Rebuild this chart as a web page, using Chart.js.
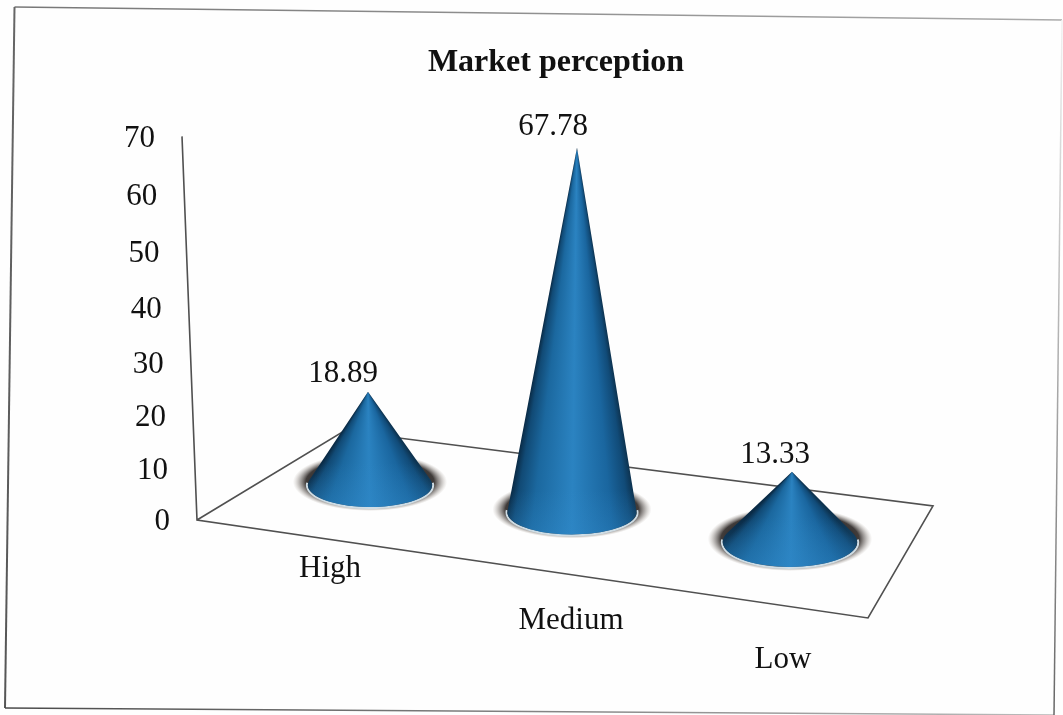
<!DOCTYPE html>
<html>
<head>
<meta charset="utf-8">
<title>Market perception</title>
<style>
  html, body { margin: 0; padding: 0; background: #fefefe; }
  canvas { display: block; }
</style>
<script src="https://cdn.jsdelivr.net/npm/chart.js@4"></script>
</head>
<body>
<canvas id="cone-chart" width="1063" height="715"></canvas>
<script>
var chartTitle = "Market perception";
var categories = ["High", "Medium", "Low"];
var perception = [18.89, 67.78, 13.33];
var tickStep = 10;
var axisMax = 70;

var SERIF = "'Liberation Serif', 'Times New Roman', serif";
var TEXT_FONT = "31px " + SERIF;
var TEXT_COLOR = "#111111";
var LINE_COLOR = "#505050";

// floor plane corners
var floorLeft = [197, 520];
var floorFront = [868, 618];
var floorRight = [933, 506];
var floorBack = [344, 431];
var axisTopX = 182;

// per cone tweaks, the x axis squeezes towards the back
var rimShift = [0, -8, 0];
var apexLean = [-2, 5, 2];
var rimDepth = [22, 22, 25];
var valueLabelDx = [-25, -24, -17];
var valueLabelDy = [-18, -21, -17];
var catLabelDx = [-40, -9, -7];
var catLabelDy = [49, 101, 140];

// y axis gets stretched a bit towards the top of the wall
class PerspectiveScale extends Chart.LinearScale {
     getPixelForValue(value) {
          var warp = function (v) { return v / (1 - 0.00102 * v); };
          return this.getPixelForDecimal(warp(value) / warp(this.max));
     }
}
PerspectiveScale.id = "perspective";
PerspectiveScale.defaults = Chart.LinearScale.defaults;
Chart.register(PerspectiveScale);

function strokeEdge(ctx, from, to, startColor, endColor, width) {
     var g = ctx.createLinearGradient(from[0], from[1], to[0], to[1]);
     g.addColorStop(0, startColor);
     g.addColorStop(1, endColor);
     ctx.strokeStyle = g;
     ctx.lineWidth = width;
     ctx.beginPath();
     ctx.moveTo(from[0], from[1]);
     ctx.lineTo(to[0], to[1]);
     ctx.stroke();
}

function drawFrame(ctx) {
     var tl = [14.5, 7], tr = [1062, 20], br = [1054, 715], bl = [5, 708];
     strokeEdge(ctx, tl, tr, "#777777", "#aaaaaa", 1.5);
     strokeEdge(ctx, tl, bl, "#666666", "#555555", 2);
     strokeEdge(ctx, bl, br, "#4a4a4a", "#bbbbbb", 1.5);
     strokeEdge(ctx, tr, br, "#f2f2f2", "#666666", 1.5);
}

function drawFloor(chart) {
     var ctx = chart.ctx;
     var y = chart.scales.y;
     var top = y.getPixelForValue(axisMax);
     ctx.save();
     ctx.strokeStyle = LINE_COLOR;
     ctx.lineWidth = 1.6;
     ctx.lineJoin = "miter";
     ctx.beginPath();
     ctx.moveTo(axisTopX, top);
     ctx.lineTo(floorLeft[0], floorLeft[1]);
     ctx.lineTo(floorFront[0], floorFront[1]);
     ctx.lineTo(floorRight[0], floorRight[1]);
     ctx.lineTo(floorBack[0], floorBack[1]);
     ctx.lineTo(floorLeft[0], floorLeft[1]);
     ctx.stroke();
     ctx.restore();
}

// wall x for a given pixel height on the slanted value axis
function axisXAt(chart, py) {
     var y = chart.scales.y;
     var top = y.getPixelForValue(axisMax);
     var zero = y.getPixelForValue(0);
     return floorLeft[0] + (axisTopX - floorLeft[0]) * (zero - py) / (zero - top);
}

function drawHalo(ctx, cx, cy, rx, ry) {
     var outer = rx + 15;
     var g = ctx.createRadialGradient(0, 0, rx * 0.8, 0, 0, outer);
     g.addColorStop(0, "rgba(40,36,36,1)");
     g.addColorStop((rx + 2 - rx * 0.8) / (outer - rx * 0.8), "rgba(55,50,48,0.95)");
     g.addColorStop((rx + 8 - rx * 0.8) / (outer - rx * 0.8), "rgba(110,104,100,0.55)");
     g.addColorStop(1, "rgba(170,160,150,0)");
     ctx.save();
     ctx.translate(cx, cy - 3);
     ctx.scale(1, (ry + 7) / outer);
     ctx.fillStyle = g;
     ctx.beginPath();
     ctx.arc(0, 0, outer, 0, Math.PI * 2);
     ctx.fill();
     ctx.restore();
}

function drawCone(ctx, apexX, apexY, cx, cy, rx, ry) {
     drawHalo(ctx, cx, cy, rx, ry);

     // rim sits just outside the cone body
     ctx.save();
     ctx.strokeStyle = "#cfdde5";
     ctx.lineWidth = 2;
     ctx.beginPath();
     ctx.ellipse(cx, cy, rx + 1, ry + 1, 0, -0.1, Math.PI + 0.1);
     ctx.stroke();
     ctx.restore();

     var dy = cy - apexY;
     var rightAngle = Math.atan2(dy, cx + rx - apexX);
     var leftAngle = Math.atan2(dy, cx - rx - apexX);
     var twoPi = Math.PI * 2;
     // angles fan out from the tip, so the shading runs along the cone
     var shade = ctx.createConicGradient(0, apexX, apexY);
     var stop = function (t, color) {
          var a = rightAngle + (leftAngle - rightAngle) * t;
          shade.addColorStop(a / twoPi, color);
     };
     shade.addColorStop(0, "#0b2d4a");
     stop(0, "#0d3350");
     stop(0.06, "#114b78");
     stop(0.2, "#1a669f");
     stop(0.5, "#2b83c1");
     stop(0.8, "#1b689f");
     stop(0.94, "#114a75");
     stop(1, "#0a2b46");
     shade.addColorStop(1, "#0b2d4a");

     // outline leaves the ellipse at its tangent points
     var tangent = Math.asin(Math.min(ry / dy, 1));

     ctx.save();
     ctx.fillStyle = shade;
     ctx.beginPath();
     ctx.moveTo(apexX, apexY);
     ctx.ellipse(cx, cy, rx, ry, 0, -tangent, Math.PI + tangent);
     ctx.closePath();
     ctx.fill();

     // bottom of the body goes a touch lighter
     var glow = ctx.createLinearGradient(0, cy - ry, 0, cy + ry);
     glow.addColorStop(0, "rgba(50,140,205,0)");
     glow.addColorStop(1, "rgba(50,140,205,0.3)");
     ctx.fillStyle = glow;
     ctx.fill();
     ctx.restore();
}

var coneScene = {
     id: "coneScene",
     beforeDraw: function (chart) {
          var ctx = chart.ctx;
          ctx.save();
          ctx.fillStyle = "#fefefe";
          ctx.fillRect(0, 0, chart.width, chart.height);
          drawFrame(ctx);
          ctx.restore();
     },
     afterLayout: function (chart) {
          // title sits a little right of the page centre
          chart.titleBlock.left = 2 * 556 - chart.titleBlock.right;
     },
     beforeDatasetsDraw: function (chart) {
          drawFloor(chart);
     },
     afterDatasetsDraw: function (chart) {
          var ctx = chart.ctx;
          var yScale = chart.scales.y;
          var zero = yScale.getPixelForValue(0);
          var bars = chart.getDatasetMeta(0).data;
          var slope = 0.1357;

          ctx.save();
          ctx.font = TEXT_FONT;
          ctx.fillStyle = TEXT_COLOR;

          // value axis labels follow the slanted wall edge
          ctx.textAlign = "right";
          ctx.textBaseline = "middle";
          yScale.ticks.forEach(function (tick) {
               var py = yScale.getPixelForValue(tick.value);
               ctx.fillText(tick.value, axisXAt(chart, py) - 27, py + 2);
          });
          ctx.restore();

          bars.forEach(function (bar, i) {
               var cx = bar.x + rimShift[i];
               var cy = 485 + slope * (cx - 370);
               // cones nearer the right corner come out a little taller
               var depth = 0.985 + (cx - 572) * 0.000164;
               var height = (bar.base - bar.y) * depth;
               var rx = bar.width / 2 + (cx - 572) * 0.012;
               var apexX = cx + apexLean[i];
               var apexY = cy - height;
               drawCone(ctx, apexX, apexY, cx, cy, rx, rimDepth[i]);

               ctx.save();
               ctx.font = TEXT_FONT;
               ctx.fillStyle = TEXT_COLOR;
               ctx.textAlign = "center";
               ctx.textBaseline = "middle";
               ctx.fillText(perception[i].toFixed(2), apexX + valueLabelDx[i], apexY + valueLabelDy[i]);
               ctx.fillText(categories[i], bar.x + catLabelDx[i], zero + catLabelDy[i]);
               ctx.restore();
          });
     }
};

var chart = new Chart(document.getElementById("cone-chart"), {
     type: "bar",
     data: {
          labels: categories,
          datasets: [{
               data: perception,
               label: chartTitle,
               backgroundColor: "rgba(0,0,0,0)",
               borderWidth: 0,
               barPercentage: 0.615,
               categoryPercentage: 1
          }]
     },
     plugins: [coneScene],
     options: {
          responsive: false,
          animation: false,
          events: [],
          layout: { padding: { left: 265, right: 168, top: 0, bottom: 195 } },
          plugins: {
               legend: { display: false },
               tooltip: { enabled: false },
               title: {
                    display: true,
                    text: chartTitle,
                    color: "#111111",
                    font: { family: SERIF, size: 32, weight: "bold" },
                    padding: { top: 44, bottom: 54 }
               }
          },
          scales: {
               x: { display: false },
               y: {
                    type: "perspective",
                    display: false,
                    min: 0,
                    max: axisMax,
                    ticks: { stepSize: tickStep }
               }
          }
     }
});
</script>
</body>
</html>
